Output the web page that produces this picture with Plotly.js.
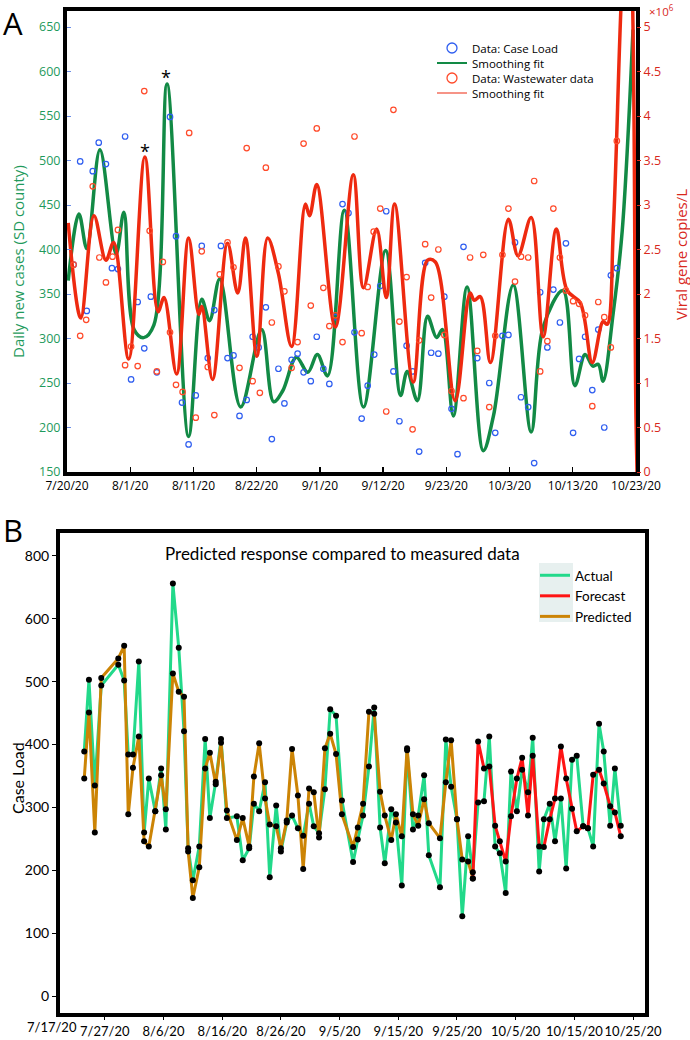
<!DOCTYPE html>
<html><head><meta charset="utf-8">
<script src="https://cdn.plot.ly/plotly-3.0.1.min.js"></script>
<style>body{margin:0;background:#fff}#chart{width:690px;height:1040px}</style>
</head><body><div id="chart"></div>
<script>
// ---------------- Panel A data (x = days since 7/20/20) ----------------
const aTickLabels = ['7/20/20','8/1/20','8/11/20','8/22/20','9/1/20','9/12/20','9/23/20','10/3/20','10/13/20','10/23/20'];
const caseDay = [1.1,2.2,3.3,4.3,5.3,6.5,7.5,8.5,9.7,10.7,11.8,12.9,14.0,15.0,17.2,18.2,19.2,20.3,21.5,22.5,23.5,24.6,25.7,26.8,27.8,28.8,30.0,31.0,32.0,33.2,34.2,35.3,36.3,37.5,38.5,39.5,40.7,41.7,42.8,43.8,44.8,46.0,47.0,48.0,49.2,50.2,51.3,52.3,53.3,54.5,55.5,56.7,57.7,58.8,59.8,60.8,62.0,63.0,64.2,65.2,66.2,68.5,70.5,71.5,72.7,73.7,74.8,75.8,77.0,78.0,79.0,80.2,81.2,82.3,83.3,84.5,85.5,86.5,87.7,88.7,89.7,90.8,91.8];
const caseVal = [383,499,331,488,520,496,379,378,527,254,341,289,347,262,549,415,228,181,236,404,278,332,404,278,281,213,231,302,290,335,187,266,227,276,283,262,252,302,266,249,324,451,441,307,210,247,282,359,443,263,207,292,263,173,385,284,283,347,221,170,403,278,250,194,303,304,408,234,223,160,352,290,355,318,407,194,277,302,242,310,200,371,379];
const wwDay = [1.1,2.2,3.2,4.3,5.4,6.5,7.6,8.5,9.7,10.7,11.8,12.9,13.8,15.0,16.0,17.2,18.2,19.3,20.4,21.5,22.5,23.5,24.6,25.5,26.8,27.8,28.8,30.0,31.0,32.2,33.2,34.2,35.3,36.3,37.5,38.5,39.5,40.7,41.7,42.8,43.8,44.8,46.0,48.0,49.2,50.2,51.2,52.3,53.3,54.5,55.5,56.7,57.7,58.8,59.8,60.8,62.0,63.0,64.2,66.2,67.3,68.5,69.5,70.5,71.5,72.7,73.7,74.8,75.8,77.0,78.0,79.0,80.2,81.2,82.3,83.3,84.5,85.5,86.5,87.7,88.7,89.7,90.8,91.8];
const wwVal = [2.33,1.53,1.71,3.21,2.41,2.13,2.42,2.72,1.20,1.41,1.19,4.28,2.71,1.13,2.36,1.57,0.98,0.90,3.81,0.61,2.48,1.18,0.64,2.22,2.58,2.30,1.17,3.64,1.02,0.89,3.42,1.68,2.31,2.03,1.17,1.46,3.69,1.87,3.86,2.07,1.64,1.76,1.46,3.77,1.56,2.08,2.70,2.96,0.68,4.07,1.69,2.19,0.48,1.48,2.56,1.96,2.50,1.54,0.91,0.83,2.41,1.36,2.44,0.73,1.53,2.44,2.96,2.14,2.42,2.41,3.27,1.13,1.47,2.96,2.41,2.04,1.92,1.89,1.76,0.74,1.91,1.74,1.40,3.72];
const caseFitDay = [0.2,2.0,3.3,5.5,8.2,9.5,11.2,12.8,14.5,16.7,20.3,22.5,23.8,25.5,29.0,32.5,34.5,36.0,38.3,40.2,41.8,43.5,46.3,49.5,53.2,55.7,56.8,58.5,60.2,61.7,62.7,64.5,66.8,69.5,71.2,74.5,77.5,79.5,82.8,84.8,86.5,87.8,88.7,89.5,91.2,92.7,94.5];
const caseFitVal = [365,440,401,512,395,442,310,301,315,586,190,344,320,367,223,310,229,241,279,262,282,258,444,223,399,236,263,230,325,301,310,213,358,174,213,360,195,313,354,247,282,269,271,252,329,421,647];
const wwFitDay = [0.2,2.3,4.5,6.5,7.8,10.3,13.0,15.2,16.2,18.3,20.3,22.0,22.5,24.3,26.8,28.5,29.8,31.7,33.5,35.3,37.5,39.8,40.5,41.7,44.8,47.8,49.5,51.7,53.3,54.7,57.8,60.2,61.5,64.8,67.3,68.0,69.0,70.7,73.7,75.3,77.5,79.5,81.7,83.5,85.7,87.7,89.5,90.2,91.2,92.6,93.5,94.3,95.0,95.4];
const wwFitVal = [2.80,1.73,2.88,2.38,2.58,1.27,3.54,1.80,1.96,1.10,2.63,1.77,1.86,1.04,2.57,2.01,2.63,1.30,2.63,2.23,1.41,3.01,2.88,3.23,1.63,3.34,2.07,2.73,1.96,3.01,1.01,2.38,2.36,0.80,2.01,1.93,1.97,1.23,2.84,2.43,2.86,1.52,2.73,2.04,1.90,1.23,1.69,1.66,2.71,5.4,6.4,5.6,0.6,-0.6];
const aLegendNames = ['Data: Case Load','Smoothing fit','Data: Wastewater data','Smoothing fit'];

// ---------------- Panel B data (x = days since 7/17/20) ----------------
const bTickLabels = ['7/17/20','7/27/20','8/6/20','8/16/20','8/26/20','9/5/20','9/15/20','9/25/20','10/5/20','10/15/20','10/25/20'];
const bDay = [6.5,7.3,8.3,9.4,12.3,13.3,14.0,14.8,15.8,16.7,17.5,18.6,19.6,20.4,21.6,22.6,23.5,24.2,25.0,26.1,27.1,27.9,28.9,29.8,30.8,32.5,33.5,34.6,35.4,36.3,37.3,38.1,39.2,40.0,41.0,41.9,42.9,43.8,44.8,45.6,46.5,47.5,48.4,49.4,50.4,52.3,53.1,54.0,55.0,55.9,56.9,57.7,58.8,59.6,60.6,61.5,62.5,63.4,64.4,65.2,67.1,68.1,69.0,70.0,70.9,71.9,72.7,73.6,74.6,75.5,76.5,77.3,78.3,79.2,80.2,81.1,82.1,82.9,84.0,84.8,85.8,86.7,87.7,88.6,89.6,90.4,91.5,92.3,93.2,94.2,95.0,96.1,96.9,97.9];
const actualB = [389,503,335,494,527,502,384,384,532,260,346,294,362,265,656,554,421,235,184,238,409,283,341,409,283,286,216,235,306,294,340,189,303,230,276,287,267,255,306,270,259,329,456,446,311,213,249,287,365,459,268,211,297,276,176,391,265,287,351,224,173,408,333,281,127,254,197,308,310,413,238,227,164,357,294,360,324,411,198,281,306,246,314,203,376,382,270,267,238,433,389,271,362,271];
const predictedB = [346,451,260,506,537,557,289,363,413,246,238,294,351,297,513,484,476,230,156,205,362,387,337,403,295,248,283,238,349,402,314,273,270,235,279,393,319,202,330,324,252,394,417,385,289,237,268,306,452,449,325,287,248,289,254,394,289,271,313,275,251,340,407,281,217,214,187,null,null,null,null,null,null,null,null,null,null,null,null,null,null,null,null,null,null,null,null,null,null,null,null,null,null,null];
const forecastB = [null,null,null,null,null,null,null,null,null,null,null,null,null,null,null,null,null,null,null,null,null,null,null,null,null,null,null,null,null,null,null,null,null,null,null,null,null,null,null,null,null,null,null,null,null,null,null,null,null,null,null,null,null,null,null,null,null,null,null,null,null,null,null,null,null,null,187,405,362,365,271,246,214,286,346,379,287,382,238,237,281,314,397,346,298,262,270,267,352,360,338,302,292,254];
const bYTickVals = [0,100,200,300,400,500,600,700];
const bYTickText = ['0','100','200','300','400','500','600','800'];

// ---------------- styles ----------------
const GREEN = '#128a45', GREENTXT = '#1f9a5c', RED = '#ee2a10', REDTXT = '#d8281c';
const BLUE = '#2f5ef0', REDPT = '#ff4a2a';
const BF = 'Lato, "Open Sans", sans-serif';
const aFont = '"Open Sans", sans-serif';
const W = 690, H = 1040;
const px = v => v / W, py = v => 1 - v / H;

const aRange = [0, 95];
const aTickVals = aTickLabels.map((_, i) => aRange[0] + i * (aRange[1] - aRange[0]) / (aTickLabels.length - 1));
const bTickVals = bTickLabels.map((_, i) => i * 10);

const traces = [
  // Panel A
  {x: wwFitDay, y: wwFitVal, xaxis: 'x', yaxis: 'y2', mode: 'lines', line: {color: RED, width: 3.5, shape: 'spline', smoothing: 1}, showlegend: false},
  {x: caseFitDay, y: caseFitVal, xaxis: 'x', yaxis: 'y', mode: 'lines', line: {color: GREEN, width: 3.5, shape: 'spline', smoothing: 1}, showlegend: false},
  {x: caseDay, y: caseVal, xaxis: 'x', yaxis: 'y', mode: 'markers', marker: {symbol: 'circle-open', size: 5.5, color: BLUE, line: {width: 1.2}}, showlegend: false},
  {x: wwDay, y: wwVal, xaxis: 'x', yaxis: 'y2', mode: 'markers', marker: {symbol: 'circle-open', size: 5.5, color: REDPT, line: {width: 1.2}}, showlegend: false},
  // legend entries A (one legend per row to match the tight spacing)
  {x: [null], y: [null], xaxis: 'x', yaxis: 'y', mode: 'markers', name: aLegendNames[0], marker: {symbol: 'circle-open', size: 10, color: BLUE, line: {width: 1.3}}, legend: 'legend'},
  {x: [null], y: [null], xaxis: 'x', yaxis: 'y', mode: 'lines', name: aLegendNames[1], line: {color: GREEN, width: 2}, legend: 'legend3'},
  {x: [null], y: [null], xaxis: 'x', yaxis: 'y', mode: 'markers', name: aLegendNames[2], marker: {symbol: 'circle-open', size: 10, color: REDPT, line: {width: 1.3}}, legend: 'legend4'},
  {x: [null], y: [null], xaxis: 'x', yaxis: 'y', mode: 'lines', name: aLegendNames[3], line: {color: RED, width: 1.2}, legend: 'legend5'},
  // Panel B
  {x: bDay, y: actualB, xaxis: 'x2', yaxis: 'y3', mode: 'lines', name: 'Actual', line: {color: '#22d98a', width: 3}, legend: 'legend2', legendrank: 1},
  {x: bDay, y: predictedB, xaxis: 'x2', yaxis: 'y3', mode: 'lines', name: 'Predicted', line: {color: '#cc8405', width: 3}, legend: 'legend2', legendrank: 3, connectgaps: false},
  {x: bDay, y: forecastB, xaxis: 'x2', yaxis: 'y3', mode: 'lines', name: 'Forecast', line: {color: '#ff1414', width: 3}, legend: 'legend2', legendrank: 2, connectgaps: false},
  {x: bDay, y: actualB, xaxis: 'x2', yaxis: 'y3', mode: 'markers', marker: {color: '#000', size: 6}, showlegend: false},
  {x: bDay, y: predictedB, xaxis: 'x2', yaxis: 'y3', mode: 'markers', marker: {color: '#000', size: 6}, showlegend: false},
  {x: bDay, y: forecastB, xaxis: 'x2', yaxis: 'y3', mode: 'markers', marker: {color: '#000', size: 6}, showlegend: false}
];

const frame = {showline: true, linecolor: '#000', linewidth: 4, mirror: true, zeroline: false, showgrid: false};
const aLeg = rowY => ({x: px(432), y: py(rowY), xanchor: 'left', yanchor: 'middle', bgcolor: 'rgba(0,0,0,0)',
  font: {size: 11.5, color: '#000', family: aFont}, tracegroupgap: 0, itemwidth: 30, borderwidth: 0});

const layout = {
  width: W, height: H,
  margin: {l: 0, r: 0, t: 0, b: 0},
  paper_bgcolor: '#fff', plot_bgcolor: '#fff',
  font: {family: aFont, color: '#000'},
  showlegend: true,
  xaxis: Object.assign({}, frame, {
    domain: [px(67), px(636)], range: aRange, anchor: 'y',
    tickmode: 'array', tickvals: aTickVals, ticktext: aTickLabels, tickangle: 0,
    ticks: 'inside', ticklen: 5, tickwidth: 1.3, tickcolor: '#000',
    tickfont: {size: 12, color: '#000', family: aFont}
  }),
  yaxis: Object.assign({}, frame, {
    domain: [py(472), py(11)], range: [150, 668], anchor: 'x',
    tickmode: 'array', tickvals: [150,200,250,300,350,400,450,500,550,600,650],
    ticks: 'inside', ticklen: 4, tickwidth: 1, tickcolor: '#6d8fe6',
    tickfont: {size: 12.5, color: GREENTXT, family: aFont}
  }),
  yaxis2: {
    overlaying: 'y', side: 'right', anchor: 'x', range: [0, 5.18],
    showline: false, zeroline: false, showgrid: false,
    tickmode: 'array', tickvals: [0,0.5,1,1.5,2,2.5,3,3.5,4,4.5,5],
    ticktext: ['0','0.5','1','1.5','2','2.5','3','3.5','4','4.5','5'],
    ticks: 'outside', ticklen: 4, tickwidth: 1, tickcolor: REDTXT,
    tickfont: {size: 12.5, color: REDTXT, family: aFont}
  },
  xaxis2: Object.assign({}, frame, {
    domain: [px(60), px(645)], range: [2.37, 102.03], anchor: 'y3',
    tickmode: 'array', tickvals: bTickVals.slice(1), ticktext: bTickLabels.slice(1), tickangle: 0,
    ticks: 'outside', ticklen: 3, tickwidth: 1, tickcolor: '#000',
    tickfont: {size: 13, color: '#000', family: BF}
  }),
  yaxis3: Object.assign({}, frame, {
    domain: [py(1013), py(533)], range: [-27, 736.5], anchor: 'x2',
    tickmode: 'array', tickvals: bYTickVals, ticktext: bYTickText,
    ticks: 'outside', ticklen: 4, tickwidth: 1, tickcolor: '#000',
    tickfont: {size: 14, color: '#000', family: BF}
  }),
  legend: aLeg(48),
  legend3: aLeg(63),
  legend4: aLeg(78),
  legend5: aLeg(93),
  legend2: {
    x: px(535), y: py(560), xanchor: 'left', yanchor: 'top',
    bgcolor: 'rgba(0,0,0,0)', font: {size: 13.5, color: '#000', family: BF},
    tracegroupgap: 0, itemwidth: 30
  },
  shapes: [
    {type: 'rect', xref: 'paper', yref: 'paper', x0: px(539), x1: px(573), y0: py(622), y1: py(563),
     fillcolor: '#e7f0ef', line: {width: 0}, layer: 'below'}
  ],
  annotations: [
    {text: 'A', xref: 'paper', yref: 'paper', x: px(1), y: py(23), xanchor: 'left', yanchor: 'middle', showarrow: false, font: {size: 31, family: aFont, color: '#000'}},
    {text: 'B', xref: 'paper', yref: 'paper', x: px(1), y: py(530), xanchor: 'left', yanchor: 'middle', showarrow: false, font: {size: 31, family: aFont, color: '#000'}},
    {text: '×10<sup>6</sup>', xref: 'paper', yref: 'paper', x: px(647), y: py(11), xanchor: 'left', yanchor: 'middle', showarrow: false, font: {size: 11.5, family: aFont, color: REDTXT}},
    {text: 'Daily new cases (SD county)', xref: 'paper', yref: 'paper', x: px(18), y: py(262), textangle: -90, xanchor: 'center', yanchor: 'middle', showarrow: false, font: {size: 15, family: aFont, color: GREENTXT}},
    {text: 'Viral gene copies/L', xref: 'paper', yref: 'paper', x: px(681), y: py(255), textangle: -90, xanchor: 'center', yanchor: 'middle', showarrow: false, font: {size: 15, family: aFont, color: REDTXT}},
    {text: '*', xref: 'x', yref: 'y', x: 16.6, y: 594, showarrow: false, font: {size: 18, color: '#000'}},
    {text: '*', xref: 'x', yref: 'y', x: 13.1, y: 511, showarrow: false, font: {size: 18, color: '#000'}},
    {text: 'Predicted response compared to measured data', xref: 'paper', yref: 'paper', x: px(342), y: py(553), xanchor: 'center', yanchor: 'middle', showarrow: false, font: {size: 17, family: BF, color: '#000'}},
    {text: 'Case Load', xref: 'paper', yref: 'paper', x: px(17), y: py(778), textangle: -90, xanchor: 'center', yanchor: 'middle', showarrow: false, font: {size: 16, family: BF, color: '#000'}},
    {text: bTickLabels[0], xref: 'paper', yref: 'paper', x: px(52), y: py(1027), xanchor: 'center', yanchor: 'middle', showarrow: false, font: {size: 13, family: BF, color: '#000'}}
  ]
};

Plotly.newPlot('chart', traces, layout, {displayModeBar: false, staticPlot: true});
</script>
</body></html>
